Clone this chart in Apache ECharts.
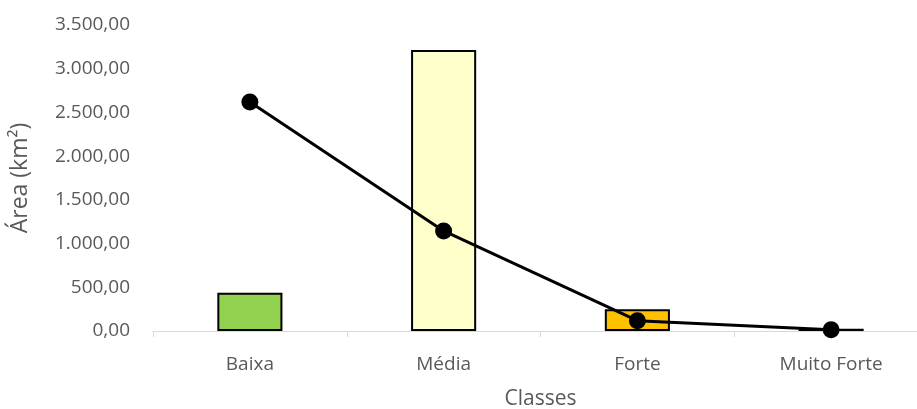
<!DOCTYPE html>
<html><head><meta charset="utf-8">
<script src="https://cdn.jsdelivr.net/npm/echarts@6/dist/echarts.min.js"></script>
<style>html,body{margin:0;padding:0;background:#fff;overflow:hidden}#c{width:930px;height:409px}</style>
</head><body><div id="c"></div>
<script>
const categories = ['Baixa', 'Média', 'Forte', 'Muito Forte'];
const barValues = [437, 3215, 248, 25];
const lineValues = [2618, 1145, 118, 15];
const barColors = ['#92D050', '#FFFFCC', '#FFC000', '#FF0000'];
const yTicks = [0, 500, 1000, 1500, 2000, 2500, 3000, 3500];

const fmt = v => {
  const s = v.toFixed(2).split('.');
  return s[0].replace(/\B(?=(\d{3})+(?!\d))/g, '.') + ',' + s[1];
};
const font = '"Open Sans", "Liberation Sans", sans-serif';
const chart = echarts.init(document.getElementById('c'), null, {renderer: 'canvas'});
chart.setOption({
  animation: false,
  grid: {left: 153, top: 25, width: 775, height: 306, containLabel: false, outerBoundsMode: 'none'},
  xAxis: {
    type: 'category', data: categories,
    axisLine: {lineStyle: {color: '#d9d9d9', width: 1}},
    axisTick: {show: true, alignWithLabel: false, length: 6, lineStyle: {color: '#d9d9d9'}},
    axisLabel: {color: '#595959', fontSize: 19, fontFamily: font, margin: 24},
    name: 'Classes', nameLocation: 'middle', nameGap: 58,
    nameTextStyle: {color: '#595959', fontSize: 21, fontFamily: font}
  },
  yAxis: {
    type: 'value', min: yTicks[0], max: yTicks[yTicks.length - 1], interval: 500,
    axisLine: {show: false}, axisTick: {show: false},
    splitLine: {show: false},
    axisLabel: {color: '#595959', fontSize: 19, fontFamily: font, margin: 23, formatter: v => fmt(v)},
    name: 'Área (km²)', nameLocation: 'middle', nameGap: 121, nameRotate: 90,
    nameTextStyle: {color: '#595959', fontSize: 23, fontFamily: font}
  },
  series: [
    {
      type: 'bar', barWidth: '33.6%',
      data: barValues.map((v, i) => ({value: v, itemStyle: {color: barColors[i]}})),
      itemStyle: {borderColor: '#000', borderWidth: 2}
    },
    {
      type: 'line', data: lineValues,
      symbol: 'circle', symbolSize: 17,
      lineStyle: {color: '#000', width: 3},
      itemStyle: {color: '#000'}
    }
  ]
});
</script></body></html>
